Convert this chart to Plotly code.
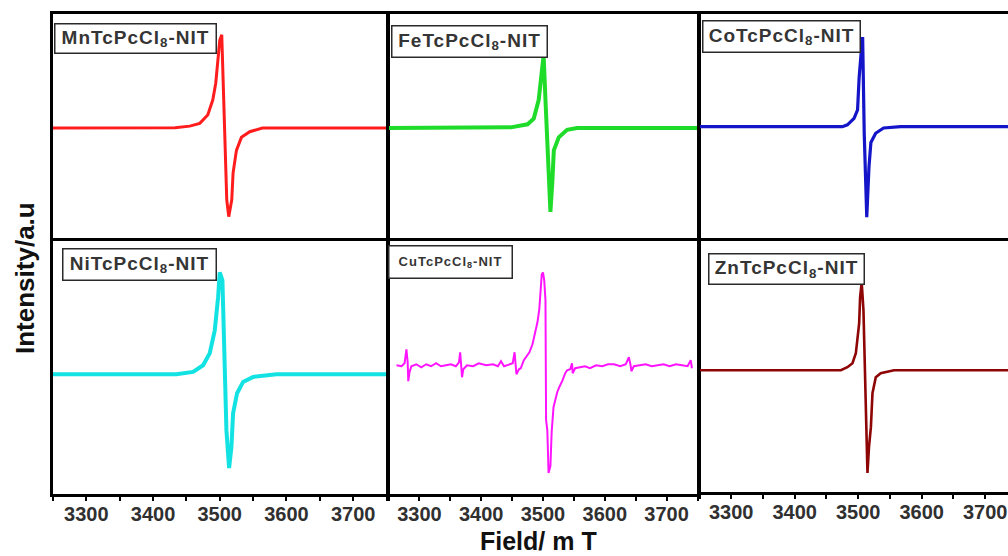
import plotly.graph_objects as go

# ---------------- EPR spectra data (field in mT, intensity in a.u.) ----------------
mn_field = [3250, 3400, 3433, 3455, 3470, 3482, 3489.5, 3494, 3497, 3500, 3503, 3505,
            3510.5, 3513.5, 3518, 3520, 3525, 3532.5, 3545, 3564, 3750]
mn_signal = [0, 0, 0.003, 0.02, 0.05, 0.14, 0.30, 0.48, 0.73, 0.94, 1.0, 0.55,
             -0.77, -0.95, -0.77, -0.48, -0.24, -0.10, -0.04, 0, 0]

fe_field = [3250, 3448, 3475, 3485, 3493, 3499, 3501, 3504, 3507, 3509.5, 3512,
            3515, 3517.5, 3525.5, 3539, 3555, 3750]
fe_signal = [0, 0.007, 0.04, 0.10, 0.30, 0.65, 0.78, 0.30, -0.24, -0.59, -0.90,
             -0.59, -0.24, -0.10, -0.02, 0, 0]

co_field = [3250, 3475, 3483, 3493.5, 3499, 3501.5, 3505, 3507, 3509.5, 3512,
            3513.5, 3517, 3520, 3527.5, 3540, 3567, 3750]
co_signal = [0, 0, 0.02, 0.09, 0.18, 0.53, 0.82, 0.96, -0.07, -0.79,
             -0.97, -0.43, -0.17, -0.07, -0.014, 0, 0]

ni_field = [3250, 3435, 3460, 3475, 3485, 3492.5, 3497.5, 3500, 3504, 3507.5,
            3510, 3514, 3517.5, 3520, 3526, 3535, 3550, 3585, 3750]
ni_signal = [0, 0, 0.023, 0.09, 0.21, 0.44, 0.77, 1.02, 0.94, 0.11,
             -0.56, -0.94, -0.73, -0.39, -0.19, -0.077, -0.027, 0, 0]

cu_field = [3263, 3271, 3276, 3279, 3281, 3282, 3284, 3287, 3295, 3303, 3311, 3319,
            3327, 3335, 3343, 3351, 3359, 3364, 3366, 3367, 3369, 3371, 3377, 3387,
            3396, 3408, 3419, 3427, 3432, 3437, 3445, 3451, 3454, 3456, 3457, 3461,
            3464, 3469, 3474, 3478, 3483, 3488, 3491, 3494, 3496, 3498, 3500, 3502,
            3504, 3505, 3507, 3509, 3512, 3514, 3517, 3520, 3523, 3527, 3531, 3536,
            3539, 3544, 3547, 3548, 3552, 3560, 3568, 3576, 3586, 3596, 3605, 3615,
            3625, 3634, 3639, 3642, 3643, 3647, 3657, 3666, 3676, 3686, 3695, 3705,
            3715, 3725, 3734, 3739, 3741]
cu_signal = [0, -0.01, 0.02, 0.16, 0.03, -0.16, -0.07, -0.01, 0.01, -0.02, 0.01, -0.01,
             0.02, -0.01, 0, 0.01, -0.01, 0.03, 0.13, -0.01, -0.12, -0.04, 0, -0.01,
             0.02, 0, 0.01, -0.01, 0.04, -0.01, 0.01, 0.02, 0.13, -0.01, -0.09, -0.04,
             -0.03, 0.05, 0.10, 0.13, 0.21, 0.35, 0.43, 0.56, 0.81, 0.91, 0.93, 0.85,
             0.65, -0.55, -0.65, -1.08, -1.01, -0.67, -0.42, -0.33, -0.27, -0.21, -0.16, -0.08,
             -0.05, -0.04, 0.02, -0.08, -0.03, -0.02, -0.01, -0.03, 0, -0.01, 0.01, 0.01,
             -0.01, 0.01, 0.08, -0.01, -0.06, -0.01, 0, 0.01, -0.01, 0, 0.01, -0.01,
             0.01, 0, -0.01, 0.05, -0.03]

zn_field = [3250, 3472.7, 3483, 3491, 3496.3, 3499, 3501.5, 3503, 3505.5, 3508.3,
            3510.4, 3512, 3513.5, 3514.6, 3517, 3520, 3522.5, 3527.7, 3535.5, 3556.4, 3750]
zn_signal = [0, 0, 0.03, 0.07, 0.17, 0.30, 0.47, 0.73, 0.88, 0.60,
             0.07, -0.60, -0.93, -1.03, -0.77, -0.57, -0.23, -0.07, -0.03, 0, 0]

sample_names = ["MnTcPcCl<sub>8</sub>-NIT", "FeTcPcCl<sub>8</sub>-NIT", "CoTcPcCl<sub>8</sub>-NIT",
                "NiTcPcCl<sub>8</sub>-NIT", "CuTcPcCl<sub>8</sub>-NIT", "ZnTcPcCl<sub>8</sub>-NIT"]
field_ticks = [3300, 3400, 3500, 3600, 3700]
field_tick_labels = ["3300", "3400", "3500", "3600", "3700"]

series = [(mn_field, mn_signal), (fe_field, fe_signal), (co_field, co_signal),
          (ni_field, ni_signal), (cu_field, cu_signal), (zn_field, zn_signal)]
colors = ["#ff1c1c", "#1fdc2a", "#1414c8", "#12e2e2", "#ff14ff", "#8e0505"]
widths = [3, 4, 3.2, 4, 2, 2.6]

# ---------------- layout geometry (pixels) ----------------
W, H = 1008, 556
col_px = [(53, 386.5), (388.5, 697.5), (699.5, 1008)]
row_px = {0: (14, 238), 1: (240.5, 494)}
bottom_px = [494, 494, 492]
x_ranges = [[3250, 3750], [3250, 3750], [3250, 3736]]
y_ranges = [[-1.179, 1.222], [-1.179, 1.222], [-1.193, 1.208],
            [-1.20, 1.34], [-1.29, 1.25], [-1.22, 1.30]]
# label boxes: left, top, width, height, font size
boxes = [(54, 23, 163, 31, 19), (391, 25, 157, 33, 19), (702, 20, 159, 33, 19),
         (62, 248, 155, 33, 19), (388, 245, 125, 34, 13), (708, 253, 157, 32, 19)]

fig = go.Figure()
layout = dict(width=W, height=H, margin=dict(l=0, r=0, t=0, b=0),
              paper_bgcolor="white", plot_bgcolor="white", showlegend=False)

annotations = []
for i, ((fx, fy), c, lw) in enumerate(zip(series, colors, widths)):
    r, k = divmod(i, 3)
    n = "" if i == 0 else str(i + 1)
    fig.add_trace(go.Scatter(x=fx, y=fy, mode="lines", line=dict(color=c, width=lw),
                             xaxis="x" + n, yaxis="y" + n, hoverinfo="skip"))
    x0, x1 = col_px[k]
    top, bot = row_px[r]
    if r == 1:
        bot = bottom_px[k]
    xa = dict(domain=[x0 / W, x1 / W], range=x_ranges[k], anchor="y" + n,
              showline=True, linecolor="black", linewidth=2.5, mirror=True,
              showgrid=False, zeroline=False, fixedrange=True)
    if r == 1:
        xa.update(tickmode="array", tickvals=field_ticks, ticktext=field_tick_labels,
                  ticks="outside", ticklen=4, tickwidth=2, tickcolor="black",
                  ticklabelstandoff=-4,
                  tickfont=dict(family="Liberation Sans", size=20, color="#303030",
                                weight="bold"),
                  minor=dict(ticks="outside", ticklen=4, tickwidth=2, tickcolor="black",
                             dtick=50, tick0=3250))
    else:
        xa.update(showticklabels=False, ticks="")
    ya = dict(domain=[(H - bot) / H, (H - top) / H], range=y_ranges[i], anchor="x" + n,
              showline=True, linecolor="black", linewidth=2.5, mirror=(k < 2),
              showgrid=False, zeroline=False, showticklabels=False, ticks="",
              fixedrange=True)
    layout["xaxis" + n] = xa
    layout["yaxis" + n] = ya

    bl, bt, bw, bh, fs = boxes[i]
    annotations.append(dict(
        x=bl / W, y=(H - bt) / H, xref="paper", yref="paper",
        xanchor="left", yanchor="top", showarrow=False,
        text='<span style="letter-spacing:1px">' + sample_names[i] + "</span>",
        font=dict(family="Liberation Sans", size=fs, color="#353535", weight="bold"),
        bgcolor="white", bordercolor="#2a2a2a", borderwidth=1.5, borderpad=0,
        width=bw - 3, height=bh - 3, align="center", valign="middle"))

annotations.append(dict(x=25 / W, y=(H - 278) / H, xref="paper", yref="paper",
                        xanchor="center", yanchor="middle",
                        text="Intensity/a.u", textangle=-90, showarrow=False,
                        font=dict(family="Liberation Sans", size=26, color="#111111",
                                  weight="bold")))
annotations.append(dict(x=538 / W, y=(H - 541) / H, xref="paper", yref="paper",
                        xanchor="center", yanchor="middle",
                        text="Field/ m T", showarrow=False,
                        font=dict(family="Liberation Sans", size=25, color="#111111",
                                  weight="bold")))
layout["annotations"] = annotations

fig.update_layout(**layout)
fig.write_html("out.html")
